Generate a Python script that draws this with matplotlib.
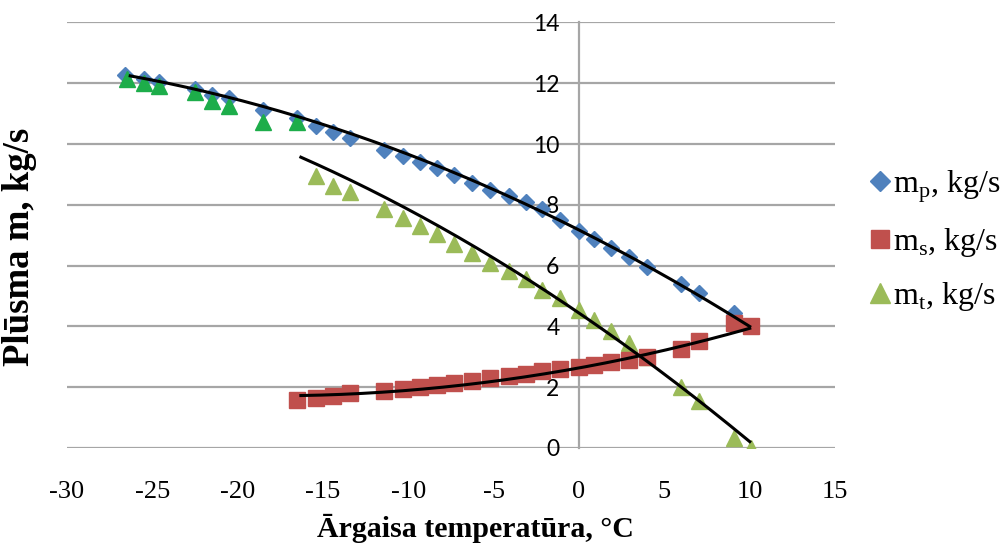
import numpy as np
import matplotlib
matplotlib.use("Agg")
import matplotlib.pyplot as plt
from matplotlib.lines import Line2D

# ---------------- data ----------------
mp_x = [-26.6, -25.5, -24.6, -22.5, -21.5, -20.5, -18.5, -16.5, -15.4, -14.4, -13.4, -11.4, -10.3,
        -9.3, -8.3, -7.3, -6.3, -5.2, -4.1, -3.1, -2.2, -1.1, 0.0, 0.9, 1.9, 2.9, 4.0, 6.0, 7.0, 9.1]
mp_y = [12.28, 12.15, 12.05, 11.8, 11.62, 11.5, 11.12, 10.85, 10.6, 10.4, 10.2, 9.8, 9.62,
        9.42, 9.2, 8.98, 8.72, 8.5, 8.3, 8.08, 7.85, 7.5, 7.15, 6.88, 6.58, 6.27, 5.97, 5.4, 5.1, 4.45]

ms_x = [-16.5, -15.4, -14.4, -13.4, -11.4, -10.3, -9.3, -8.3, -7.3, -6.3, -5.2, -4.1, -3.1,
        -2.2, -1.1, 0.0, 0.9, 1.9, 2.9, 4.0, 6.0, 7.0, 9.1, 10.1]
ms_y = [1.58, 1.65, 1.72, 1.8, 1.87, 1.94, 2.01, 2.08, 2.15, 2.22, 2.3, 2.37, 2.45,
        2.52, 2.6, 2.67, 2.74, 2.82, 2.9, 3.0, 3.27, 3.52, 4.1, 4.0]

mt_upper_x = [-26.5, -25.5, -24.6, -22.5, -21.5, -20.5, -18.5, -16.5]
mt_upper_y = [12.13, 12.0, 11.9, 11.7, 11.42, 11.24, 10.72, 10.72]
mt_lower_x = [-15.4, -14.4, -13.4, -11.4, -10.3, -9.3, -8.3, -7.3, -6.3, -5.2, -4.1, -3.1,
              -2.2, -1.1, 0.0, 0.9, 1.9, 2.9, 4.0, 6.0, 7.0, 9.1, 10.1]
mt_lower_y = [8.95, 8.63, 8.42, 7.85, 7.58, 7.3, 7.03, 6.7, 6.43, 6.1, 5.82, 5.55,
              5.2, 4.93, 4.55, 4.2, 3.85, 3.45, 3.0, 2.0, 1.55, 0.32, 0.0]

# trend lines
mp_trend_x = [-26.3, -20, -15, -10, -5, 0, 5, 10]
mp_trend_y = [12.25, 11.45, 10.65, 9.65, 8.5, 7.2, 5.65, 4.0]
mt_trend_x = [-16.3, -10, -5, 0, 5, 10]
mt_trend_y = [9.58, 7.8, 6.3, 4.4, 2.45, 0.2]
ms_trend_x = [-16.3, -12, -8, -4, 0, 3.6, 7, 10]
ms_trend_y = [1.68, 1.85, 2.05, 2.3, 2.6, 2.98, 3.45, 4.0]

x_ticks = [-30, -25, -20, -15, -10, -5, 0, 5, 10, 15]
y_ticks = [0, 2, 4, 6, 8, 10, 12, 14]
legend_labels = [r'm$_\mathregular{p}$, kg/s', r'm$_\mathregular{s}$, kg/s', r'm$_\mathregular{t}$, kg/s']

BLUE = '#4F81BD'
RED = '#C0504D'
GREEN = '#9BBB59'
GREEN_DARK = '#1DAD4A'
GRID = '#A6A6A6'

plt.rcParams['mathtext.fontset'] = 'custom'
plt.rcParams['mathtext.rm'] = 'Liberation Serif'

fig = plt.figure(figsize=(10.02, 5.43), dpi=100)
ax = fig.add_axes([0.0669, 0.1750, 0.7665, 0.7836])
ax.set_xlim(-30, 15)
ax.set_ylim(0, 14)

for s in ['top', 'right', 'bottom']:
    ax.spines[s].set_visible(False)
ax.spines['left'].set_position(('data', 0))
ax.spines['left'].set_color(GRID)
ax.spines['left'].set_linewidth(1.6)

ax.set_yticks(y_ticks)
ax.set_xticks(x_ticks)
ax.set_yticklabels([str(v) for v in y_ticks], fontfamily='Lato', fontsize=16.5)
ax.set_xticklabels([str(v) for v in x_ticks], fontfamily='Liberation Serif', fontsize=19)
ax.tick_params(axis='y', length=0, pad=14)
ax.tick_params(axis='x', length=0, pad=24)
ax.yaxis.grid(True, color=GRID, linewidth=1.6)
ax.set_axisbelow(True)

# markers
ax.plot(mp_x, mp_y, linestyle='none', marker='D', markersize=7.8, color=BLUE, zorder=3)
ax.plot(mt_upper_x, mt_upper_y, linestyle='none', marker='^', markersize=11, color=GREEN_DARK, zorder=3)
ax.plot(mt_lower_x, mt_lower_y, linestyle='none', marker='^', markersize=11, color=GREEN, zorder=3)
ax.plot(ms_x, ms_y, linestyle='none', marker='s', markersize=12, color=RED, zorder=3)

# trend lines
for tx, ty, deg in [(mp_trend_x, mp_trend_y, 2), (mt_trend_x, mt_trend_y, 2), (ms_trend_x, ms_trend_y, 2)]:
    c = np.polyfit(tx, ty, deg)
    xx = np.linspace(min(tx), max(tx), 200)
    ax.plot(xx, np.polyval(c, xx), color='black', linewidth=2.2, zorder=4)

fig.text(0.474, 0.027, 'Ārgaisa temperatūra, °C', fontfamily='Liberation Serif', fontweight='bold',
         fontsize=21.5, ha='center', va='center')
fig.text(0.019, 0.545, 'Plūsma m, kg/s', rotation=90, fontfamily='Liberation Serif',
         fontweight='bold', fontsize=26.5, ha='center', va='center')

handles = [Line2D([], [], linestyle='none', marker='D', markersize=10, color=BLUE),
           Line2D([], [], linestyle='none', marker='s', markersize=13, color=RED),
           Line2D([], [], linestyle='none', marker='^', markersize=14, color=GREEN)]
leg = fig.legend(handles, legend_labels, loc='upper left', bbox_to_anchor=(0.856, 0.714),
                 frameon=False, prop={'family': 'Liberation Serif', 'size': 23},
                 handlelength=0.6, handletextpad=0.1, labelspacing=0.67, borderaxespad=0)

fig.savefig('out.png', dpi=100)
